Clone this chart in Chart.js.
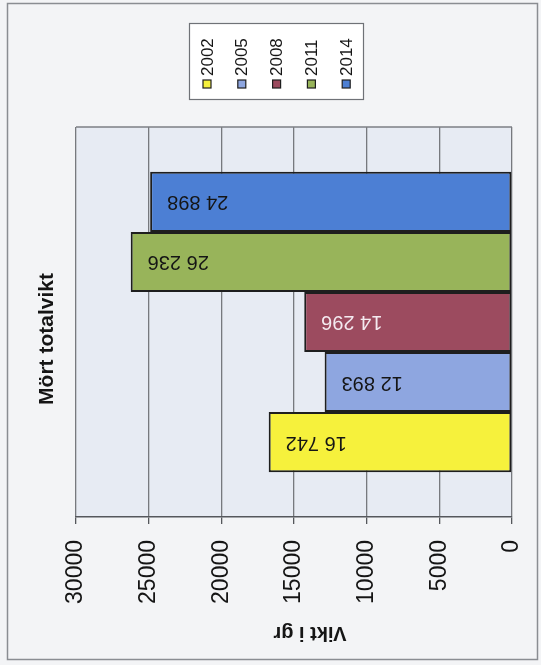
<!DOCTYPE html>
<html>
<head>
<meta charset="utf-8">
<script src="https://cdn.jsdelivr.net/npm/chart.js@4"></script>
<style>
  html, body { margin: 0; padding: 0; background: #f3f4f6; }
  #wrap { width: 541px; height: 665px; position: relative; }
</style>
</head>
<body>
<div id="wrap"><canvas id="chart" width="541" height="665"></canvas></div>
<script>
const years = ['2002', '2005', '2008', '2011', '2014'];
const weights = [16742, 12893, 14296, 26236, 24898];
const barColors = ['#f6f13c', '#8ea6e0', '#9c4b5f', '#98b45a', '#4c7fd4'];
const labelColors = ['#151515', '#151515', '#f4eaf0', '#151515', '#151515'];
const valueTicks = [0, 5000, 10000, 15000, 20000, 25000, 30000];
const chartTitle = 'Mört totalvikt';
const axisTitle = 'Vikt i gr';

const FONT = '"Liberation Sans", Arial, sans-serif';

function fmt(v) {
    return String(v).replace(/\B(?=(\d{3})+(?!\d))/g, ' ');
}

// bars are laid out top to bottom, so feed the datasets newest first
const datasets = years.map((y, i) => ({
    label: y,
    data: [weights[i]],
    backgroundColor: barColors[i],
    borderColor: '#1e1e1e',
    borderWidth: 2,
    borderSkipped: false,
    _idx: i
})).reverse();

const decorations = {
    id: 'decorations',
    beforeDraw(chart) {
        const { ctx, chartArea: a } = chart;
        ctx.save();
        ctx.fillStyle = '#f3f4f6';
        ctx.fillRect(0, 0, chart.width, chart.height);
        ctx.fillStyle = '#e7ebf3';
        ctx.fillRect(a.left, a.top, a.right - a.left, a.bottom - a.top);
        ctx.restore();
    },
    afterDraw(chart) {
        const { ctx, chartArea: a } = chart;
        ctx.save();
        // outer frame
        ctx.strokeStyle = '#8a8d92';
        ctx.lineWidth = 1.5;
        ctx.strokeRect(7.5, 3.5, 530, 656);
        // plot top border
        ctx.strokeStyle = '#7d7f84';
        ctx.lineWidth = 1.5;
        ctx.beginPath();
        ctx.moveTo(a.left, a.top);
        ctx.lineTo(a.right, a.top);
        ctx.stroke();

        // title, rotated counter-clockwise
        ctx.fillStyle = '#151515';
        ctx.font = 'bold 21px ' + FONT;
        ctx.textAlign = 'center';
        ctx.textBaseline = 'middle';
        ctx.save();
        ctx.translate(47, 339);
        ctx.rotate(-Math.PI / 2);
        ctx.fillText(chartTitle, 0, 0);
        ctx.restore();

        // axis title, upside down
        ctx.font = 'bold 20px ' + FONT;
        ctx.save();
        ctx.translate(310, 633);
        ctx.rotate(Math.PI);
        ctx.fillText(axisTitle, 0, 0);
        ctx.restore();

        // legend
        ctx.strokeStyle = '#6f7277';
        ctx.lineWidth = 1.2;
        ctx.fillStyle = '#ffffff';
        ctx.fillRect(189, 23, 174, 76);
        ctx.strokeRect(189.5, 23.5, 174, 76);
        ctx.font = '17px ' + FONT;
        ctx.textAlign = 'left';
        years.forEach((y, i) => {
            const cx = 207 + i * 34.8;
            ctx.fillStyle = barColors[i];
            ctx.fillRect(cx - 4, 80, 8, 8);
            ctx.strokeStyle = '#1e1e1e';
            ctx.lineWidth = 1.2;
            ctx.strokeRect(cx - 4, 80, 8, 8);
            ctx.save();
            ctx.translate(cx, 76);
            ctx.rotate(-Math.PI / 2);
            ctx.fillStyle = '#151515';
            ctx.fillText(y, 0, 1);
            ctx.restore();
        });
        ctx.restore();
    },
    afterDatasetsDraw(chart) {
        const ctx = chart.ctx;
        ctx.save();
        ctx.font = '20px ' + FONT;
        ctx.textAlign = 'right';
        ctx.textBaseline = 'middle';
        chart.data.datasets.forEach((ds, d) => {
            const bar = chart.getDatasetMeta(d).data[0];
            ctx.save();
            ctx.translate(bar.x + 17, bar.y);
            ctx.rotate(Math.PI);
            ctx.fillStyle = labelColors[ds._idx];
            ctx.fillText(fmt(ds.data[0]), 0, 0);
            ctx.restore();
        });
        ctx.restore();
    }
};

new Chart(document.getElementById('chart'), {
    type: 'bar',
    data: { labels: [''], datasets: datasets },
    options: {
        indexAxis: 'y',
        responsive: false,
        animation: false,
        layout: { padding: { left: 76, right: 29, top: 127, bottom: 0 } },
        datasets: { bar: { categoryPercentage: 0.77, barPercentage: 1.0 } },
        scales: {
            x: {
                reverse: true,
                min: 0,
                max: 30000,
                afterBuildTicks: scale => { scale.ticks = valueTicks.map(v => ({ value: v })); },
                afterFit: scale => { scale.height = 148; },
                grid: { color: '#77797e', lineWidth: 1.3, tickLength: 7, tickColor: '#55575c' },
                border: { color: '#55575c', width: 1.6 },
                ticks: {
                    minRotation: 90,
                    maxRotation: 90,
                    padding: 16,
                    color: '#151515',
                    font: { family: FONT, size: 23 },
                    callback: v => String(v)
                }
            },
            y: { display: false }
        },
        plugins: {
            legend: { display: false },
            tooltip: { enabled: false },
            title: { display: false }
        }
    },
    plugins: [decorations]
});
</script>
</body>
</html>
